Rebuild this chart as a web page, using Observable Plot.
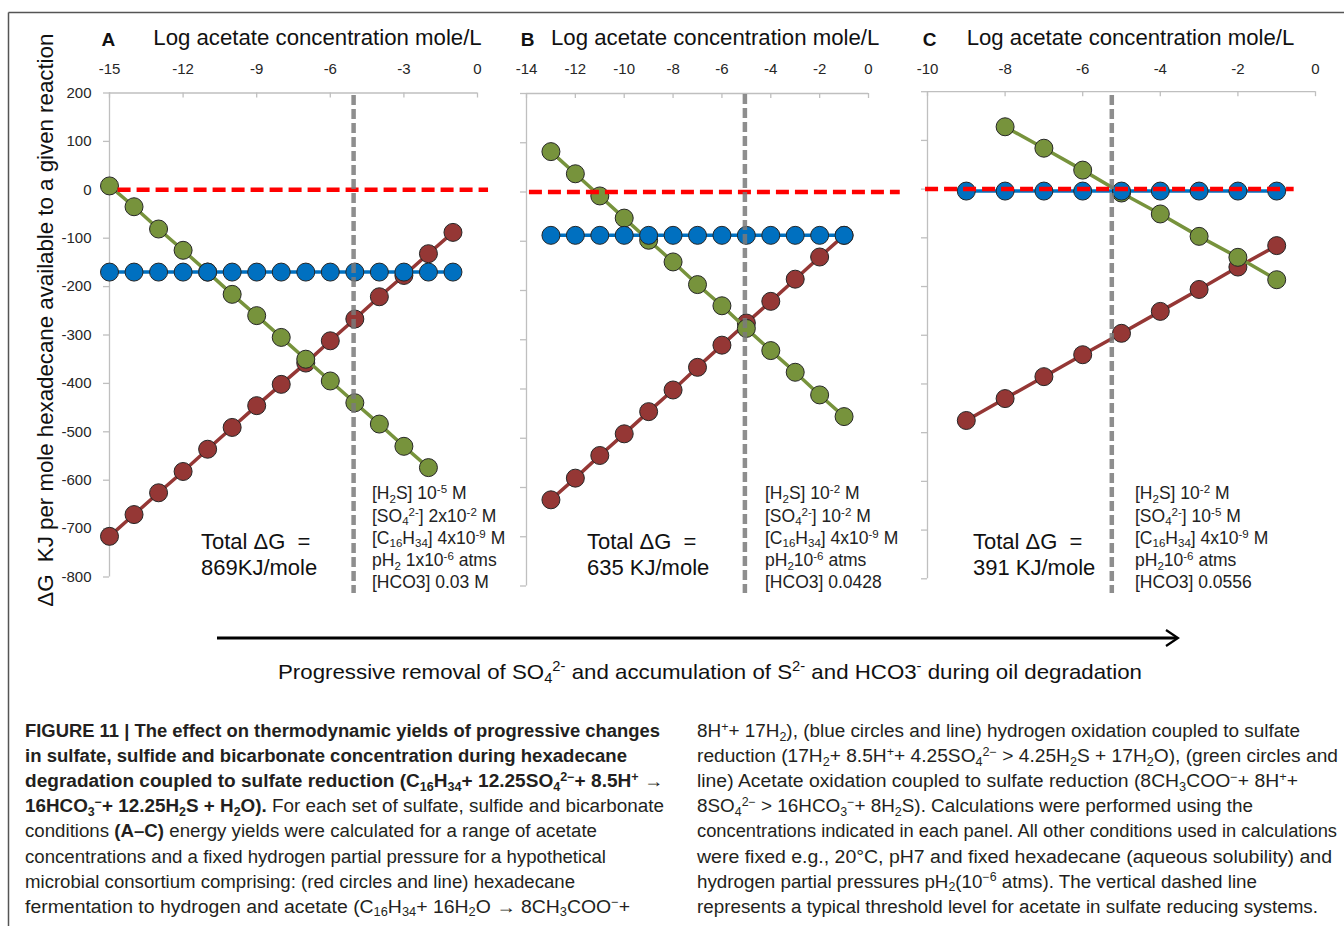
<!DOCTYPE html>
<html><head><meta charset="utf-8">
<script src="https://cdn.jsdelivr.net/npm/d3@7"></script>
<script src="https://cdn.jsdelivr.net/npm/@observablehq/plot@0.6"></script>
<style>
html,body{margin:0;padding:0;background:#fff;}
#page{position:relative;width:1344px;height:926px;overflow:hidden;background:#fff;font-family:"Liberation Sans",Arial,sans-serif;}
#page > svg{position:absolute;left:0;top:0;}
</style></head>
<body><div id="page"><svg id="deco" width="1344" height="926"></svg></div>
<script>
// ---------------- data ----------------
const panelLetters = ["A", "B", "C"];
const axisTitle = "Log acetate concentration mole/L";
const yAxisLabel = "ΔG  KJ per mole hexadecane available to a given reaction";
const yTicks = [200, 100, 0, -100, -200, -300, -400, -500, -600, -700, -800];
const xTicksA = [-15, -12, -9, -6, -3, 0];
const xTicksB = [-14, -12, -10, -8, -6, -4, -2, 0];
const xTicksC = [-10, -8, -6, -4, -2, 0];

// Panel A
const xRedA = [-15, -14, -13, -12, -11, -10, -9, -8, -7, -6, -5, -4, -3, -2, -1];
const redA = [-716, -671, -626, -582, -536, -491, -446, -402, -358, -312, -267, -221, -177, -132, -88];
const xGreenA = [-15, -14, -13, -12, -11, -10, -9, -8, -7, -6, -5, -4, -3, -2];
const greenA = [8, -35, -81, -125, -170, -216, -260, -305, -350, -395, -440, -484, -530, -574];
const xBlueA = [-15, -14, -13, -12, -11, -10, -9, -8, -7, -6, -5, -4, -3, -2, -1];
const blueA = [-170, -170, -170, -170, -170, -170, -170, -170, -170, -170, -170, -170, -170, -170, -170];
const thresholdA = -5.05;
const zeroLineA = [-14.65, 0.45];
const thresholdSpanA = [195, -834];
const totalA = "869KJ/mole";
const conditionsA = ["[H_{2}S] 10^{-5} M", "[SO_{4}^{2-}] 2x10^{-2} M", "[C_{16}H_{34}] 4x10^{-9} M", "pH_{2} 1x10^{-6} atms", "[HCO3] 0.03 M"];

// Panel B
const xRedB = [-13, -12, -11, -10, -9, -8, -7, -6, -5, -4, -3, -2, -1];
const redB = [-625, -581, -535, -491, -446, -402, -356, -311, -266, -222, -177, -132, -88];
const xGreenB = [-13, -12, -11, -10, -9, -8, -7, -6, -5, -4, -3, -2, -1];
const greenB = [82, 37, -8, -53, -98, -142, -188, -231, -277, -322, -366, -412, -456];
const xBlueB = [-13, -12, -11, -10, -9, -8, -7, -6, -5, -4, -3, -2, -1];
const blueB = [-88, -88, -88, -88, -88, -88, -88, -88, -88, -88, -88, -88, -88];
const thresholdB = -5.06;
const zeroLineB = [-13.88, 1.3];
const thresholdSpanB = [198, -815];
const totalB = "635 KJ/mole";
const conditionsB = ["[H_{2}S] 10^{-2} M", "[SO_{4}^{2-}] 10^{-2} M", "[C_{16}H_{34}] 4x10^{-9} M", "pH_{2}10^{-6} atms", "[HCO3] 0.0428"];

// Panel C
const xRedC = [-9, -8, -7, -6, -5, -4, -3, -2, -1];
const redC = [-475, -430, -385, -340, -296, -251, -206, -160, -116];
const xGreenC = [-8, -7, -6, -5, -4, -3, -2, -1];
const greenC = [128, 84, 39, -8, -51, -97, -140, -186];
const xBlueC = [-9, -8, -7, -6, -5, -4, -3, -2, -1];
const blueC = [-4, -4, -4, -4, -4, -4, -4, -4, -4];
const thresholdC = -5.25;
const zeroLineC = [-10.05, -0.55];
const thresholdSpanC = [192, -830];
const totalC = "391 KJ/mole";
const conditionsC = ["[H_{2}S] 10^{-2} M", "[SO_{4}^{2-}] 10^{-5} M", "[C_{16}H_{34}] 4x10^{-9} M", "pH_{2}10^{-6} atms", "[HCO3] 0.0556"];

const totalLabel = "Total ΔG  =";
const bottomLabel = "Progressive removal of SO_{4}^{2-} and accumulation of S^{2-} and HCO3^{-} during oil degradation";

const captionLeft = [
  "**FIGURE 11 | The effect on thermodynamic yields of progressive changes**",
  "**in sulfate, sulfide and bicarbonate concentration during hexadecane**",
  "**degradation coupled to sulfate reduction (C_{16}H_{34}+ 12.25SO_{4}^{2−}+ 8.5H^{+} →**",
  "**16HCO_{3}^{−}+ 12.25H_{2}S + H_{2}O).** For each set of sulfate, sulfide and bicarbonate",
  "conditions **(A–C)** energy yields were calculated for a range of acetate",
  "concentrations and a fixed hydrogen partial pressure for a hypothetical",
  "microbial consortium comprising: (red circles and line) hexadecane",
  "fermentation to hydrogen and acetate (C_{16}H_{34}+ 16H_{2}O → 8CH_{3}COO^{−}+"
];
const captionRight = [
  "8H^{+}+ 17H_{2}), (blue circles and line) hydrogen oxidation coupled to sulfate",
  "reduction (17H_{2}+ 8.5H^{+}+ 4.25SO_{4}^{2−} > 4.25H_{2}S + 17H_{2}O), (green circles and",
  "line) Acetate oxidation coupled to sulfate reduction (8CH_{3}COO^{−}+ 8H^{+}+",
  "8SO_{4}^{2−} > 16HCO_{3}^{−}+ 8H_{2}S). Calculations were performed using the",
  "concentrations indicated in each panel. All other conditions used in calculations",
  "were fixed e.g., 20°C, pH7 and fixed hexadecane (aqueous solubility) and",
  "hydrogen partial pressures pH_{2}(10^{−6} atms). The vertical dashed line",
  "represents a typical threshold level for acetate in sulfate reducing systems."
];
const captionLeftEnds = [660, 627, 663, 664, 597, 606, 575, 630];
const captionRightEnds = [1300, 1338, 1298, 1253, 1337, 1332, 1257, 1318];

// ---------------- colours / layout ----------------
const RED = "#953735", GREEN = "#77933c", BLUE = "#0070c0";
const FONT = "'Liberation Sans', Arial, sans-serif";
const page = document.getElementById("page");
const W = 1344, H = 620;

const layout = [
  {left: 109, right: 477, top: 92.5, bottom: 576.5, letterX: 101.5, titleX: 153.3, titleEnd: 481.7, totalX: 201, condX: 372},
  {left: 526, right: 868, top: 93, bottom: 585.5, letterX: 520.7, titleX: 551, titleEnd: 879.3, totalX: 587, condX: 765},
  {left: 927, right: 1315, top: 91.2, bottom: 578.3, letterX: 922.7, titleX: 966.7, titleEnd: 1294.3, totalX: 973, condX: 1135}
];

const panels = [
  {xDomain: [-15, 0], xTicks: xTicksA, yLabels: true,
   red: {x: xRedA, y: redA}, green: {x: xGreenA, y: greenA}, blue: {x: xBlueA, y: blueA},
   zero: zeroLineA, thr: thresholdA, thrSpan: thresholdSpanA, total: totalA, cond: conditionsA},
  {xDomain: [-14, 0], xTicks: xTicksB, yLabels: false,
   red: {x: xRedB, y: redB}, green: {x: xGreenB, y: greenB}, blue: {x: xBlueB, y: blueB},
   zero: zeroLineB, thr: thresholdB, thrSpan: thresholdSpanB, total: totalB, cond: conditionsB},
  {xDomain: [-10, 0], xTicks: xTicksC, yLabels: false,
   red: {x: xRedC, y: redC}, green: {x: xGreenC, y: greenC}, blue: {x: xBlueC, y: blueC},
   zero: zeroLineC, thr: thresholdC, thrSpan: thresholdSpanC, total: totalC, cond: conditionsC}
];

function makePanel(p, f) {
  const xmin = p.xDomain[0];
  const rows = (xs, ys) => xs.map((x, i) => ({x, y: ys[i]}));
  const axisGray = "#bfbfbf";
  const marks = [
    Plot.ruleY([200], {stroke: axisGray, strokeWidth: 1.3}),
    Plot.ruleX([xmin], {stroke: axisGray, strokeWidth: 1.3}),
    Plot.ruleX(p.xTicks, {x: d => d, y1: 200, y2: 200, insetBottom: -5, stroke: axisGray, strokeWidth: 1.3}),
    Plot.ruleY(yTicks, {y: d => d, x1: xmin, x2: xmin, insetLeft: -6, stroke: axisGray, strokeWidth: 1.3}),
    Plot.axisX({ticks: p.xTicks, anchor: "top", tickSize: 0, tickPadding: f.top - 73.8, tickFormat: d => String(d), fontSize: 15, fill: "#262626", label: null})
  ];
  if (p.yLabels) marks.push(Plot.axisY({ticks: yTicks, anchor: "left", tickSize: 0, tickPadding: 18, tickFormat: d => String(d), fontSize: 15, fill: "#262626", label: null}));
  for (const [s, c] of [[p.red, RED], [p.green, GREEN], [p.blue, BLUE]]) {
    const d = rows(s.x, s.y);
    marks.push(Plot.line(d, {x: "x", y: "y", stroke: c, strokeWidth: 3.5}));
    marks.push(Plot.dot(d, {x: "x", y: "y", r: 9, fill: c, stroke: "#262626", strokeWidth: 1}));
  }
  marks.push(Plot.ruleY([0], {x1: p.zero[0], x2: p.zero[1], stroke: "#ff0000", strokeWidth: 4.5, strokeDasharray: "13,6"}));
  marks.push(Plot.ruleX([p.thr], {y1: p.thrSpan[0], y2: p.thrSpan[1], stroke: "#7a7a7a", strokeWidth: 4.5, strokeDasharray: "10,4", strokeOpacity: 0.85}));
  return Plot.plot({
    width: W, height: H,
    marginLeft: f.left, marginRight: W - f.right, marginTop: f.top, marginBottom: H - f.bottom,
    x: {domain: p.xDomain, label: null},
    y: {domain: [-800, 200], label: null, axis: p.yLabels ? undefined : null},
    style: {background: "transparent", overflow: "visible", fontFamily: FONT},
    marks
  });
}

panels.forEach((p, i) => {
  const el = makePanel(p, layout[i]);
  el.style.position = "absolute"; el.style.left = "0px"; el.style.top = "0px";
  page.appendChild(el);
});

// ---------------- rich text helper ----------------
function rich(sel, str, size) {
  const parts = str.split(/(\*\*|_\{[^}]*\}|\^\{[^}]*\})/).filter(s => s !== "");
  let bold = false, shift = 0;
  for (const part of parts) {
    if (part === "**") { bold = !bold; continue; }
    let txt = part, fs = size, target = 0;
    const kind = part.slice(0, 2);
    if (kind === "_{") { txt = part.slice(2, -1); fs = size * 0.66; target = size * 0.2; }
    else if (kind === "^{") { txt = part.slice(2, -1); fs = size * 0.66; target = -size * 0.34; }
    const t = sel.append("tspan").attr("font-size", fs).text(txt);
    if (target - shift) t.attr("dy", target - shift);
    if (bold) t.attr("font-weight", "bold");
    shift = target;
  }
  return sel;
}

// ---------------- decorations & text ----------------
const deco = d3.select("#deco").style("font-family", FONT);
deco.append("line").attr("x1", 8.5).attr("y1", 12.5).attr("x2", 1344).attr("y2", 12.5).attr("stroke", "#555").attr("stroke-width", 1.5);
deco.append("line").attr("x1", 8.5).attr("y1", 12.5).attr("x2", 8.5).attr("y2", 926).attr("stroke", "#555").attr("stroke-width", 1.5);

deco.append("text").attr("transform", "translate(53,606.7) rotate(-90)")
  .attr("font-size", 22).attr("fill", "#111").style("white-space", "pre")
  .attr("textLength", 573).attr("lengthAdjust", "spacingAndGlyphs").text(yAxisLabel);

layout.forEach((f, i) => {
  deco.append("text").attr("x", f.letterX).attr("y", 45.5).attr("font-size", 19).attr("font-weight", "bold").attr("fill", "#111").text(panelLetters[i]);
  deco.append("text").attr("x", f.titleX).attr("y", 45).attr("font-size", 22).attr("fill", "#111")
    .attr("textLength", f.titleEnd - f.titleX).attr("lengthAdjust", "spacingAndGlyphs").text(axisTitle);
  deco.append("text").attr("x", f.totalX).attr("y", 549).attr("font-size", 22).attr("fill", "#111").style("white-space", "pre").text(totalLabel);
  deco.append("text").attr("x", f.totalX).attr("y", 575).attr("font-size", 22).attr("fill", "#111").style("white-space", "pre").text(panels[i].total);
  panels[i].cond.forEach((c, k) => {
    rich(deco.append("text").attr("x", f.condX).attr("y", 499.3 + 22.25 * k).attr("font-size", 17.5).attr("fill", "#222").style("white-space", "pre"), c, 17.5);
  });
});

// arrow
deco.append("line").attr("x1", 217).attr("y1", 638).attr("x2", 1177).attr("y2", 638).attr("stroke", "#000").attr("stroke-width", 3);
deco.append("polyline").attr("points", "1166,630 1178,638 1166,646").attr("fill", "none").attr("stroke", "#000").attr("stroke-width", 2.2);
rich(deco.append("text").attr("x", 278).attr("y", 678.5).attr("font-size", 21).attr("fill", "#111").style("white-space", "pre")
  .attr("textLength", 864).attr("lengthAdjust", "spacingAndGlyphs"), bottomLabel, 21);

// caption
const capBase = [737, 762, 787, 812, 837, 862.5, 887.5, 912.5];
captionLeft.forEach((s, k) => {
  rich(deco.append("text").attr("x", 25).attr("y", capBase[k]).attr("font-size", 18).attr("fill", "#231f20").style("white-space", "pre")
    .attr("textLength", captionLeftEnds[k] - 25).attr("lengthAdjust", "spacingAndGlyphs"), s, 18);
});
captionRight.forEach((s, k) => {
  rich(deco.append("text").attr("x", 697).attr("y", capBase[k]).attr("font-size", 18).attr("fill", "#231f20").style("white-space", "pre")
    .attr("textLength", captionRightEnds[k] - 697).attr("lengthAdjust", "spacingAndGlyphs"), s, 18);
});
</script></body></html>
